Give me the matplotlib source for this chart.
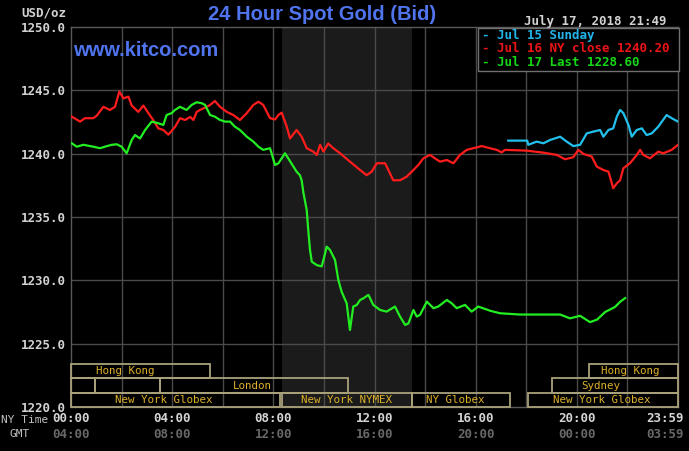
import matplotlib
matplotlib.use("Agg")
import matplotlib.pyplot as plt
from matplotlib.patches import Rectangle
from matplotlib.transforms import blended_transform_factory

# ---------------- data ----------------
title = "24 Hour Spot Gold (Bid)"
site = "www.kitco.com"
stamp = "July 17, 2018 21:49"
unit = "USD/oz"

y_ticks = [1220.0, 1225.0, 1230.0, 1235.0, 1240.0, 1245.0, 1250.0]
x_ticks = [0, 4, 8, 12, 16, 20, 24]
ny_labels = ["00:00", "04:00", "08:00", "12:00", "16:00", "20:00", "23:59"]
gmt_labels = ["04:00", "08:00", "12:00", "16:00", "20:00", "00:00", "03:59"]

legend_labels = ["Jul 15 Sunday", "Jul 16 NY close 1240.20", "Jul 17 Last 1228.60"]

# Jul 16 (red), hours NY time / price
red_t = [0.03, 0.36, 0.55, 0.88, 1.02, 1.28, 1.54, 1.74, 1.91, 2.07, 2.27, 2.40, 2.66, 2.86,
         3.06, 3.25, 3.45, 3.65, 3.85, 4.11, 4.31, 4.51, 4.71, 4.84, 4.97, 5.10, 5.37, 5.50,
         5.69, 5.89, 6.16, 6.42, 6.68, 6.95, 7.21, 7.41, 7.60, 7.87, 8.07, 8.20, 8.33, 8.53,
         8.66, 8.92, 9.12, 9.32, 9.58, 9.72, 9.85, 9.98, 10.17, 10.37, 10.64, 11.03, 11.43,
         11.69, 11.89, 12.09, 12.42, 12.61, 12.74, 13.01, 13.27, 13.54, 13.73, 13.93, 14.20,
         14.39, 14.59, 14.86, 15.12, 15.38, 15.65, 16.24, 16.57, 16.83, 17.03, 17.16, 18.02,
         18.68, 19.21, 19.53, 19.86, 20.06, 20.26, 20.59, 20.79, 21.05, 21.25, 21.44, 21.58,
         21.71, 21.84, 22.10, 22.37, 22.50, 22.63, 22.89, 23.22, 23.42, 23.75, 24.0]
red_p = [1242.92, 1242.53, 1242.8, 1242.8, 1243.0, 1243.7, 1243.45, 1243.7, 1244.9, 1244.37,
         1244.5, 1243.8, 1243.3, 1243.8, 1243.2, 1242.66, 1242.0, 1241.87, 1241.5, 1242.1,
         1242.8, 1242.66, 1242.9, 1242.66, 1243.3, 1243.45, 1243.7, 1243.85, 1244.16, 1243.7,
         1243.3, 1243.05, 1242.66, 1243.2, 1243.85, 1244.1, 1243.85, 1242.8, 1242.7, 1243.05,
         1243.24, 1242.13, 1241.2, 1241.87, 1241.34, 1240.43, 1240.16, 1239.9, 1240.7, 1240.16,
         1240.8, 1240.43, 1240.03, 1239.37, 1238.71, 1238.3, 1238.58, 1239.24, 1239.24, 1238.45,
         1237.9, 1237.9, 1238.18, 1238.71, 1239.1, 1239.63, 1239.9, 1239.63, 1239.37, 1239.5,
         1239.24, 1239.9, 1240.3, 1240.6, 1240.43, 1240.3, 1240.1, 1240.3, 1240.24, 1240.08,
         1239.9, 1239.56, 1239.72, 1240.3, 1239.98, 1239.77, 1238.98, 1238.71, 1238.58, 1237.27,
         1237.66, 1237.9, 1238.85, 1239.24, 1239.9, 1240.3, 1239.9, 1239.63, 1240.16, 1240.03,
         1240.3, 1240.7]

# Jul 15 Sunday (cyan)
cyan_t = [17.29, 18.04, 18.08, 18.41, 18.68, 18.94, 19.34, 19.60, 19.86, 20.13, 20.39, 20.65,
          20.92, 21.05, 21.25, 21.44, 21.58, 21.71, 21.84, 22.04, 22.17, 22.37, 22.57, 22.76,
          22.96, 23.22, 23.55, 23.75, 24.0]
cyan_p = [1241.03, 1241.03, 1240.7, 1240.95, 1240.82, 1241.08, 1241.34, 1240.95, 1240.6,
          1240.7, 1241.6, 1241.74, 1241.87, 1241.34, 1241.87, 1242.0, 1242.92, 1243.45, 1243.2,
          1242.27, 1241.34, 1241.87, 1242.0, 1241.47, 1241.6, 1242.13, 1243.05, 1242.8, 1242.53]

# Jul 17 (green)
green_t = [0.03, 0.23, 0.49, 0.88, 1.15, 1.34, 1.61, 1.81, 2.00, 2.20, 2.40, 2.53, 2.73, 2.93,
           3.19, 3.45, 3.65, 3.78, 3.98, 4.11, 4.31, 4.57, 4.77, 4.97, 5.17, 5.30, 5.50, 5.69,
           5.89, 6.09, 6.29, 6.48, 6.68, 6.95, 7.21, 7.41, 7.60, 7.87, 8.07, 8.20, 8.46, 8.59,
           8.92, 9.05, 9.12, 9.19, 9.32, 9.38, 9.45, 9.52, 9.72, 9.91, 9.98, 10.11, 10.24, 10.44,
           10.57, 10.70, 10.90, 11.03, 11.16, 11.30, 11.43, 11.56, 11.76, 11.95, 12.22, 12.48,
           12.81, 13.01, 13.21, 13.34, 13.54, 13.67, 13.80, 14.07, 14.33, 14.52, 14.86, 15.05,
           15.25, 15.58, 15.84, 16.10, 16.57, 16.96, 17.75, 18.55, 19.34, 19.73, 20.13, 20.52,
           20.80, 21.12, 21.51, 21.71, 21.91]
green_p = [1240.82, 1240.55, 1240.7, 1240.55, 1240.43, 1240.55, 1240.7, 1240.74, 1240.55,
           1240.03, 1241.08, 1241.47, 1241.2, 1241.87, 1242.53, 1242.4, 1242.27, 1243.05, 1243.2,
           1243.45, 1243.7, 1243.45, 1243.85, 1244.06, 1243.98, 1243.85, 1243.05, 1242.92,
           1242.66, 1242.53, 1242.53, 1242.13, 1241.87, 1241.34, 1240.95, 1240.55, 1240.3,
           1240.43, 1239.1, 1239.24, 1240.03, 1239.63, 1238.58, 1238.3, 1237.9, 1236.9, 1235.55,
           1233.98, 1232.4, 1231.47, 1231.2, 1231.1, 1231.6, 1232.66, 1232.4, 1231.6, 1230.03,
           1229.1, 1228.19, 1226.08, 1227.93, 1228.06, 1228.45, 1228.58, 1228.85, 1228.06,
           1227.66, 1227.53, 1227.93, 1227.14, 1226.48, 1226.6, 1227.66, 1227.14, 1227.27,
           1228.32, 1227.8, 1227.93, 1228.45, 1228.19, 1227.8, 1228.06, 1227.53, 1227.93, 1227.6,
           1227.4, 1227.3, 1227.3, 1227.3, 1227.0, 1227.2, 1226.7, 1226.9, 1227.5, 1227.9,
           1228.3, 1228.6]

# NY market open (shaded)
nymex_open = 8.333
nymex_close = 13.5

# trading sessions: name, start hour, end hour, row (0 = bottom), label hour
session_names = ["Hong Kong", "", "", "London", "Sydney", "Hong Kong",
                 "New York Globex", "New York NYMEX", "NY Globex", "New York Globex"]
session_start = [0.0, 0.0, 0.95, 3.5, 19.0, 20.5, 0.0, 8.333, 13.5, 18.05]
session_end = [5.5, 0.95, 3.5, 10.95, 24.0, 24.0, 8.27, 13.5, 17.35, 24.0]
session_row = [2, 1, 1, 1, 1, 2, 0, 0, 0, 0]
session_label_at = [2.14, 0, 0, 7.16, 20.95, 22.1, 3.65, 10.9, 15.2, 21.0]

# ---------------- style ----------------
W, H = 689, 451
BG = "#000000"
GRID = "#4a4a4a"
MONO = "DejaVu Sans Mono"
BLUE = "#4f74ee"

fig = plt.figure(figsize=(W / 100, H / 100), dpi=100, facecolor=BG)
L, R, T, B = 71, 678, 27, 407
ax = fig.add_axes([L / W, (H - B) / H, (R - L) / W, (B - T) / H])
ax.set_facecolor(BG)
ax.set_xlim(0, 24)
ax.set_ylim(1220, 1250)

ax.axvspan(nymex_open, nymex_close, color="#1a1b1a", zorder=0, lw=0)

for x in range(2, 24, 2):
    ax.axvline(x, color=GRID, lw=1, zorder=1)
for y in y_ticks[1:-1]:
    ax.axhline(y, color=GRID, lw=1, zorder=1)

for s in ax.spines.values():
    s.set_color("#5a5a5a")
    s.set_linewidth(1)

ax.plot(cyan_t, cyan_p, color="#22c0ec", lw=1.6, zorder=3, solid_joinstyle="round")
ax.plot(red_t, red_p, color="#ff1c1c", lw=1.6, zorder=3, solid_joinstyle="round")
ax.plot(green_t, green_p, color="#22ee22", lw=1.6, zorder=4, solid_joinstyle="round")

# ticks
ax.set_yticks(y_ticks)
ax.set_yticklabels([f"{v:.1f}" for v in y_ticks], fontfamily=MONO, fontweight="bold",
                   fontsize=9, color="#d2d2d2")
ax.tick_params(axis="y", length=0, pad=4)
ax.set_xticks([])

tb = blended_transform_factory(ax.transData, fig.transFigure)
last = len(x_ticks) - 1
for i, (xt, a, g) in enumerate(zip(x_ticks, ny_labels, gmt_labels)):
    if i == last:
        kw = dict(transform=fig.transFigure, ha="right")
        xx = 684 / W
    else:
        kw = dict(transform=tb, ha="center")
        xx = xt
    ax.text(xx, (H - 418) / H, a, va="center", fontfamily=MONO,
            fontweight="bold", fontsize=9, color="#d4d4d4", **kw)
    ax.text(xx, (H - 434) / H, g, va="center", fontfamily=MONO,
            fontweight="bold", fontsize=9, color="#686868", **kw)
fig.text(1 / W, 1 - 420 / H, "NY Time", ha="left", va="center", fontfamily=MONO,
         fontsize=8, color="#c0c0c0")
fig.text(10 / W, 1 - 434 / H, "GMT", ha="left", va="center", fontfamily=MONO,
         fontsize=8, color="#c0c0c0")
fig.text(66 / W, 1 - 13 / H, unit, ha="right", va="center", fontfamily=MONO,
         fontweight="bold", fontsize=9, color="#d2d2d2")

# sessions
ts = blended_transform_factory(ax.transData, ax.transAxes)
row_h = 14.3 / (B - T)
for name, s0, s1, r, lx in zip(session_names, session_start, session_end, session_row,
                               session_label_at):
    ax.add_patch(Rectangle((s0, r * row_h), s1 - s0, row_h, transform=ts, fill=False,
                           edgecolor="#aaa27a", lw=1.3, zorder=5, clip_on=False))
    if name:
        ax.text(lx, (r + 0.5) * row_h, name, transform=ts, ha="center", va="center",
                fontfamily=MONO, fontsize=7.8, color="#dcb02a", zorder=6)

# titles
fig.text(322 / W, 1 - 15 / H, title, ha="center", va="center", fontfamily="Liberation Sans",
         fontweight="bold", fontsize=14.5, color=BLUE)
ax.text(73 / W, 1 - 51 / H, site, transform=fig.transFigure, ha="left", va="center",
        fontfamily="Liberation Sans", fontweight="bold", fontsize=14.5, color=BLUE, zorder=7)
fig.text(667 / W, 1 - 21 / H, stamp, ha="right", va="center", fontfamily=MONO,
         fontweight="bold", fontsize=9, color="#d2d2d2")

# legend box
fig.patches.append(Rectangle((478 / W, 1 - 71 / H), (679 - 478) / W, (71 - 28) / H,
                             transform=fig.transFigure, facecolor=BG, edgecolor="#707070",
                             lw=1, zorder=8))
leg_colors = ["#20b4ea", "#ec1414", "#14d814"]
for i, (lab, c) in enumerate(zip(legend_labels, leg_colors)):
    yy = 1 - (35 + 14 * i) / H
    fig.text(482 / W, yy, "- " + lab, ha="left", va="center", fontfamily=MONO,
             fontweight="bold", fontsize=9, color=c, zorder=9)

fig.savefig("out.png", dpi=100, facecolor=BG)
